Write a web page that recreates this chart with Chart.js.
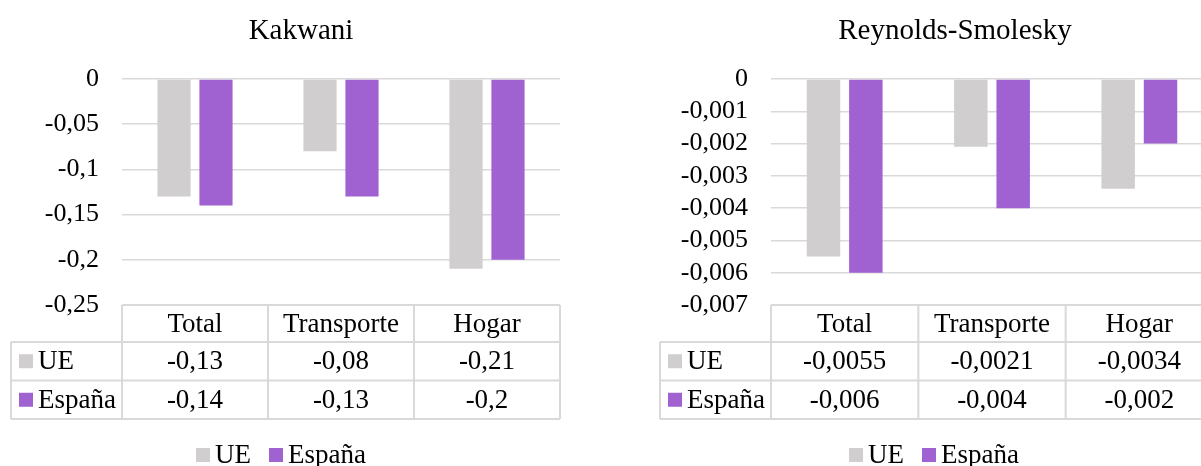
<!DOCTYPE html>
<html>
<head>
<meta charset="utf-8">
<script src="https://cdn.jsdelivr.net/npm/chart.js@4.4.1/dist/chart.umd.min.js"></script>
<style>
  html, body { margin: 0; padding: 0; background: #fff; overflow: hidden; }
  #wrap { position: relative; width: 1201px; height: 466px; overflow: hidden; }
  canvas { position: absolute; top: 0; }
  #kakwani { left: 0; }
  #reynolds { left: 600px; }
</style>
</head>
<body>
<div id="wrap">
  <canvas id="kakwani" width="600" height="466"></canvas>
  <canvas id="reynolds" width="640" height="466"></canvas>
</div>
<script>
"use strict";

const categories = ['Total', 'Transporte', 'Hogar'];
const seriesNames = ['UE', 'España'];
const kakwaniUE = [-0.13, -0.08, -0.21];
const kakwaniEs = [-0.14, -0.13, -0.2];
const reynoldsUE = [-0.0055, -0.0021, -0.0034];
const reynoldsEs = [-0.006, -0.004, -0.002];
const kakwaniTicks = { min: -0.25, max: 0, step: 0.05 };
const reynoldsTicks = { min: -0.007, max: 0, step: 0.001 };

const FONT = '"Liberation Serif", "Times New Roman", serif';
const GRAY = '#D0CECE';
const PURPLE = '#A062D0';
const LINE = '#D9D9D9';
const TEXT_SIZE = 27;

// spanish decimal comma, without float noise
function fmt(v) {
  return String(parseFloat(v.toFixed(6))).replace('.', ',');
}

// title, data table under the plot and the bottom legend
const panelPlugin = {
  id: 'panel',
  afterDraw(chart, args, opts) {
    const ctx = chart.ctx;
    const area = chart.chartArea;
    const xs = chart.scales.x;
    const sets = chart.data.datasets;
    const n = chart.data.labels.length;
    const colW = (area.right - area.left) / n;
    const legLeft = area.left - opts.legendColumn;
    const top = area.bottom;
    const headH = 37, rowH = 38.5;
    const bottom = top + headH + rowH * sets.length;

    ctx.save();
    ctx.strokeStyle = LINE;
    ctx.lineWidth = 2;
    ctx.beginPath();
    ctx.moveTo(area.left, top); ctx.lineTo(area.right, top);
    for (let r = 0; r <= sets.length; r++) {
      const y = top + headH + r * rowH;
      ctx.moveTo(legLeft, y); ctx.lineTo(area.right, y);
    }
    ctx.moveTo(legLeft, top + headH); ctx.lineTo(legLeft, bottom);
    for (let i = 0; i <= n; i++) {
      const x = area.left + i * colW;
      ctx.moveTo(x, top); ctx.lineTo(x, bottom);
    }
    ctx.stroke();

    ctx.fillStyle = '#000';
    ctx.font = TEXT_SIZE + 'px ' + FONT;
    ctx.textBaseline = 'middle';
    ctx.textAlign = 'center';
    chart.data.labels.forEach((lab, i) => {
      ctx.fillText(lab, xs.getPixelForValue(i), top + headH / 2 + 1);
    });
    sets.forEach((ds, d) => {
      const y = top + headH + d * rowH + rowH / 2;
      ctx.fillStyle = ds.backgroundColor;
      ctx.fillRect(legLeft + 8, y - 7, 14, 14);
      ctx.fillStyle = '#000';
      ctx.textAlign = 'left';
      ctx.fillText(ds.label, legLeft + 27, y + 1);
      ctx.textAlign = 'center';
      ds.data.forEach((v, i) => ctx.fillText(fmt(v), xs.getPixelForValue(i), y + 1));
    });

    // legend
    const widths = sets.map(ds => 14 + 5 + ctx.measureText(ds.label).width);
    const total = widths.reduce((a, b) => a + b, 0) + 18 * (sets.length - 1);
    let lx = opts.legendX - total / 2;
    const ly = opts.legendY;
    ctx.textAlign = 'left';
    sets.forEach((ds, d) => {
      ctx.fillStyle = ds.backgroundColor;
      ctx.fillRect(lx, ly - 7, 14, 14);
      ctx.fillStyle = '#000';
      ctx.fillText(ds.label, lx + 19, ly + 1);
      lx += widths[d] + 18;
    });

    // title
    ctx.font = '29px ' + FONT;
    ctx.textAlign = 'center';
    ctx.fillText(opts.title, opts.titleX, opts.titleY);
    ctx.restore();
  }
};

function makeChart(id, title, ue, es, ticks, layout) {
  return new Chart(document.getElementById(id), {
    type: 'bar',
    data: {
      labels: categories,
      datasets: [
        { label: seriesNames[0], data: ue, backgroundColor: GRAY },
        { label: seriesNames[1], data: es, backgroundColor: PURPLE }
      ]
    },
    options: {
      responsive: false,
      animation: false,
      events: [],
      layout: { padding: { top: 79, bottom: 161, left: 0, right: layout.padRight } },
      datasets: { bar: { barPercentage: 0.79, categoryPercentage: 0.575 } },
      scales: {
        x: { display: false },
        y: {
          min: ticks.min,
          max: ticks.max,
          afterFit(scale) { scale.width = layout.axisWidth; },
          border: { display: false },
          grid: { color: LINE, lineWidth: 1.5, drawTicks: false },
          ticks: {
            stepSize: ticks.step,
            autoSkip: false,
            padding: 23,
            color: '#000',
            font: { family: FONT, size: 26 },
            callback: v => fmt(v)
          }
        }
      },
      plugins: {
        legend: { display: false },
        tooltip: { enabled: false },
        panel: {
          title: title,
          titleX: layout.titleX,
          titleY: 31,
          legendX: layout.legendX,
          legendY: 455,
          legendColumn: 111
        }
      }
    },
    plugins: [panelPlugin]
  });
}

makeChart('kakwani', 'Kakwani', kakwaniUE, kakwaniEs, kakwaniTicks,
  { padRight: 40, axisWidth: 122, titleX: 301, legendX: 281 });
makeChart('reynolds', 'Reynolds-Smolesky', reynoldsUE, reynoldsEs, reynoldsTicks,
  { padRight: 27, axisWidth: 171, titleX: 355, legendX: 334 });
</script>
</body>
</html>
